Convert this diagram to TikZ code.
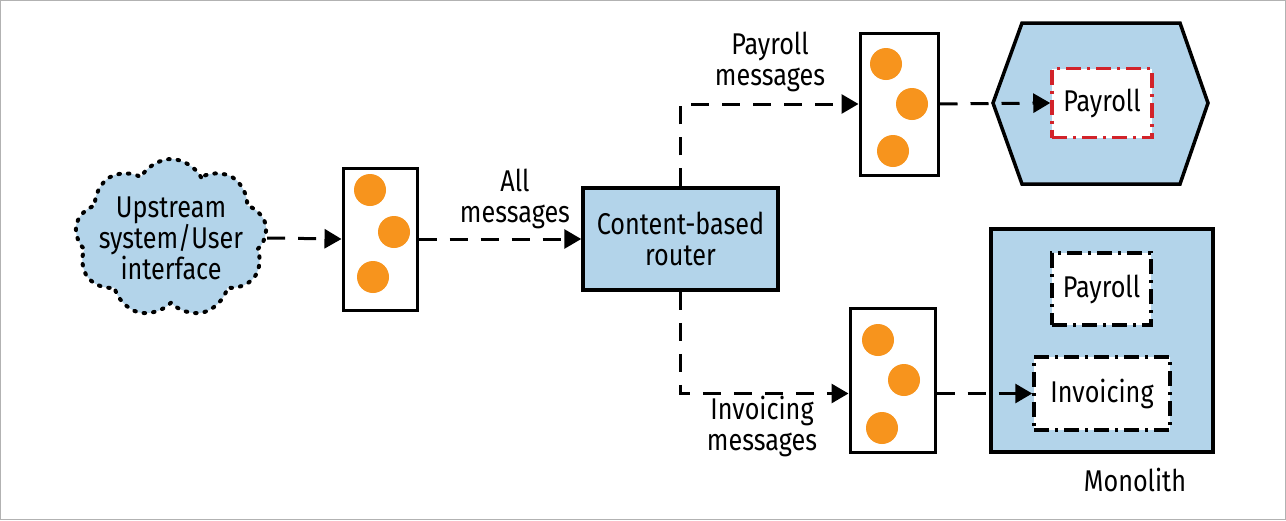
\documentclass[tikz,border=0pt]{standalone}
\usepackage{fontspec}
\setmainfont{Fira Sans}[FakeStretch=0.84]
\usetikzlibrary{shapes.symbols,arrows.meta}
\definecolor{qblue}{HTML}{B3D4EA}
\definecolor{qorange}{HTML}{F7941D}
\definecolor{qred}{HTML}{D2232A}
\begin{document}
\begin{tikzpicture}[x=1pt,y=-1pt,
  lbl/.style={font=\fontsize{30}{31}\selectfont, align=center, inner sep=0pt},
  queue/.style={draw, line width=3pt, minimum width=74pt, minimum height=142pt, fill=white, inner sep=0pt},
  blob/.style={circle, fill=qorange, minimum size=32pt, inner sep=0pt},
  flow/.style={line width=3pt, dash pattern=on 18pt off 13pt, -{Triangle[length=17pt,width=19pt]}},
  bluebox/.style={draw, line width=3.5pt, fill=qblue, inner sep=0pt},
  ddbox/.style={draw, line width=3.5pt, fill=white, dash pattern=on 15pt off 6pt on 3pt off 6pt, inner sep=0pt, font=\fontsize{30}{31}\selectfont}
]
\useasboundingbox (0,0) rectangle (1286,520);
\draw[gray!60, line width=1pt] (0.5,0.5) rectangle (1285.5,519.5);

% cloud
\node[cloud, cloud puffs=9, cloud puff arc=125, aspect=1.25, draw, fill=qblue,
      line width=4pt, dash pattern=on 1.5pt off 8pt, line cap=round,
      minimum width=192pt, minimum height=158pt, inner sep=0pt] (cloud) at (171,238) {};
\node[lbl] (cloudtxt) at (cloud.center) {Upstream\\system/User\\interface};

% queue 1
\node[queue] (q1) at (380,239) {};
\node[blob] (q1a) at (370,190) {};
\node[blob] (q1b) at (394,232) {};
\node[blob] (q1c) at (373,277) {};

% router
\node[bluebox, minimum width=195pt, minimum height=102pt, lbl] (router) at (680.5,239) {Content-based\\router};

% queue 2
\node[queue, minimum width=78pt] (q2) at (899,104) {};
\node[blob] (q2a) at (886,64) {};
\node[blob] (q2b) at (912,104) {};
\node[blob] (q2c) at (893,151) {};

% queue 3
\node[queue, minimum width=85pt, minimum height=144pt] (q3) at (892.5,380) {};
\node[blob] (q3a) at (878,340) {};
\node[blob] (q3b) at (904,380) {};
\node[blob] (q3c) at (882,428) {};

% hexagon service
\draw[line width=3.5pt, fill=qblue, line join=miter] (993,103) -- (1022,23) -- (1180,23) -- (1208,103) -- (1180,184) -- (1022,184) -- cycle;
\node[ddbox, draw=qred, minimum width=100pt, minimum height=69pt] (pay1) at (1102,103) {Payroll};

% monolith
\node[bluebox, minimum width=222pt, minimum height=223pt] (mono) at (1102,340.5) {};
\node[ddbox, minimum width=99pt, minimum height=72pt] (pay2) at (1101.5,289) {Payroll};
\node[ddbox, minimum width=136pt, minimum height=73pt] (inv) at (1102,393.5) {Invoicing};
\node[lbl] (monolbl) at (1135,480) {Monolith};

% labels
\node[lbl] (allm) at (515,199) {All\\messages};
\node[lbl] (paym) at (770,62) {Payroll\\messages};
\node[lbl] (invm) at (762,426) {Invoicing\\messages};

% connectors
\draw[flow] (cloud.east) -- (q1.west);
\draw[flow] (q1.east) -- (router.west);
\draw[flow] (router.north) |- (q2.west);
\draw[flow] (router.south) |- (q3.west |- inv.west);
\draw[flow] (q2.east) -- (pay1.west);
\draw[flow] (q3.east |- inv.west) -- (inv.west);
\end{tikzpicture}
\end{document}
